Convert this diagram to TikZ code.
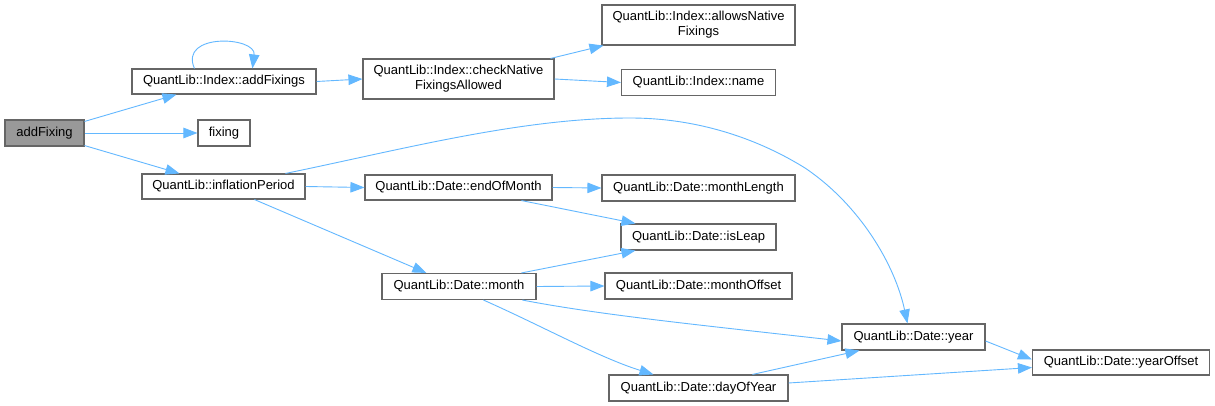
\documentclass[tikz,border=0pt]{standalone}
\usepackage{fontspec}
\setmainfont{Liberation Sans}
\usetikzlibrary{arrows.meta}
\definecolor{edgeblue}{HTML}{63B8FF}
\definecolor{nodeborder}{HTML}{666666}
\definecolor{rootfill}{HTML}{999999}
\begin{document}
\begin{tikzpicture}[x=1pt,y=-1pt,
  fn/.style={draw=nodeborder,line width=1.1pt,fill=white,inner sep=0pt,align=center,
    font=\fontsize{13}{15}\selectfont},
  root/.style={fn,fill=rootfill},
  call/.style={draw=edgeblue,line width=0.9pt,-{Triangle[length=14pt,width=10.5pt]}}]
\useasboundingbox (0,0) rectangle (1215,406);
\fill[white] (0,0) rectangle (1215,406);
% nodes: centres, sizes in px
\node[root,minimum width=79pt,minimum height=26pt] (af) at (44.5,133) {addFixing};
\node[fn,minimum width=184pt,minimum height=25pt] (afs) at (224,81.5) {QuantLib::Index::addFixings};
\node[fn,minimum width=52pt,minimum height=26pt] (fx) at (224,133) {fixing};
\node[fn,minimum width=163pt,minimum height=25pt] (ip) at (223.5,186.5) {QuantLib::inflationPeriod};
\node[fn,minimum width=191pt,minimum height=40pt] (cn) at (458.5,79) {QuantLib::Index::checkNative\\FixingsAllowed};
\node[fn,minimum width=193pt,minimum height=40pt] (an) at (698.5,25) {QuantLib::Index::allowsNative\\Fixings};
\node[fn,minimum width=154pt,minimum height=26pt] (nm) at (698.5,82.5) {QuantLib::Index::name};
\node[fn,minimum width=187pt,minimum height=25pt] (eom) at (458.5,187.5) {QuantLib::Date::endOfMonth};
\node[fn,minimum width=193pt,minimum height=26pt] (ml) at (698.5,188) {QuantLib::Date::monthLength};
\node[fn,minimum width=155pt,minimum height=26pt] (il) at (698.5,237) {QuantLib::Date::isLeap};
\node[fn,minimum width=154pt,minimum height=26pt] (mo) at (459,286.5) {QuantLib::Date::month};
\node[fn,minimum width=187pt,minimum height=26pt] (mof) at (698.5,286) {QuantLib::Date::monthOffset};
\node[fn,minimum width=179pt,minimum height=26pt] (doy) at (698.5,388) {QuantLib::Date::dayOfYear};
\node[fn,minimum width=143pt,minimum height=26pt] (yr) at (913.5,337) {QuantLib::Date::year};
\node[fn,minimum width=177pt,minimum height=25pt] (yo) at (1121,362.5) {QuantLib::Date::yearOffset};
% edges
\draw[call] ([yshift=-2pt]af.north east) -- ([xshift=45pt]afs.south west);
\draw[call] (af.east) -- (fx.west);
\draw[call] ([yshift=1pt]af.south east) -- ([xshift=38pt]ip.north west);
\draw[call] ([xshift=63pt]afs.north west) .. controls +(-16,-36) and +(4,-32) .. ([xshift=121pt]afs.north west);
\draw[call] (afs.east) -- (cn.west);
\draw[call] ([xshift=-4pt]cn.north east) -- ([xshift=2pt]an.south west);
\draw[call] (cn.east) -- (nm.west);
\draw[call] ([xshift=144pt]ip.north west) .. controls (400,150) and (520,118) .. (630,118)
  .. controls (700,118) and (760,140) .. (805,168)
  .. controls (860,205) and (895,265) .. ([xshift=66pt]yr.north west);
\draw[call] (ip.east) -- (eom.west);
\draw[call] ([xshift=113pt]ip.south west) -- ([xshift=45pt]mo.north west);
\draw[call] (eom.east) -- (ml.west);
\draw[call] ([xshift=157pt]eom.south west) -- ([xshift=15pt]il.north west);
\draw[call] ([xshift=140pt]mo.north west) -- ([xshift=15pt]il.south west);
\draw[call] (mo.east) -- (mof.west);
\draw[call] ([xshift=141pt]mo.south west) .. controls (600,315) and (700,325) .. ([yshift=-4pt]yr.west);
\draw[call] ([xshift=102pt]mo.south west) .. controls (540,325) and (600,358) .. ([xshift=45pt]doy.north west);
\draw[call] ([xshift=144pt]doy.north west) -- ([xshift=18pt]yr.south west);
\draw[call] ([yshift=5pt]doy.east) -- ([yshift=-5pt]yo.west);
\draw[call] ([yshift=-4pt]yr.east) -- ([yshift=3pt]yo.west);
\end{tikzpicture}
\end{document}
